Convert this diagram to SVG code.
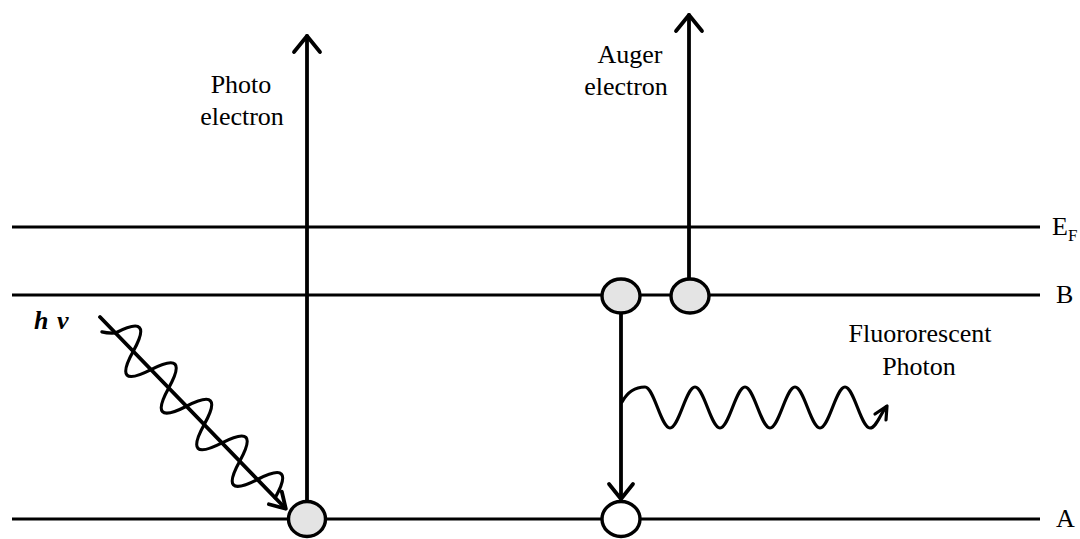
<svg xmlns="http://www.w3.org/2000/svg" width="1080" height="539" viewBox="0 0 1080 539">
<style>
.lvl{stroke:#000;stroke-width:3;fill:none}
.arr{stroke:#000;stroke-width:3.8;fill:none;stroke-linecap:round;stroke-linejoin:round}
.wave{stroke:#000;stroke-width:3.2;fill:none;stroke-linecap:round;stroke-linejoin:round}
.dot{stroke:#000;stroke-width:3.4}
.sh{fill:#e4e4e4}
.wh{fill:#fff}
.t{font-family:"Liberation Serif","Times New Roman",serif;font-size:26px;fill:#000}
</style>
<rect width="1080" height="539" fill="#fff"/>
<g id="levels">
<line class="lvl" x1="12" y1="227" x2="1040" y2="227"/>
<line class="lvl" x1="12" y1="295" x2="1040" y2="295"/>
<line class="lvl" x1="12" y1="519" x2="1040" y2="519"/>
</g>
<g id="connectors">
<line class="arr" x1="307" y1="502" x2="307" y2="36"/>
<polyline class="arr" points="294,52 307,36 320,52"/>
<line class="arr" x1="689" y1="280" x2="689" y2="15"/>
<polyline class="arr" points="676,31 689,15 702,31"/>
<line class="arr" x1="621" y1="312" x2="621" y2="498"/>
<polyline class="arr" points="609,484 621,499 633,484"/>
<g transform="translate(100,317) rotate(45.9)">
<line class="arr" x1="0" y1="0" x2="266" y2="0"/>
<polyline class="arr" points="252,-9 267,0 252,9"/>
<path class="wave" d="M 12 9 Q 17 6 22.25 0 Q 35 -42 47.75 0 T 73.25 0 T 98.75 0 T 124.25 0 T 149.75 0 T 175.25 0 T 200.75 0 T 226.25 0 T 251.75 0"/>
</g>
<path class="wave" d="M 622 402 C 628 391 636 387 645 387 C 654 387 661 428 670 428 S 686 387 695 387 S 711 428 720 428 S 736 387 745 387 S 761 428 770 428 S 786 387 795 387 S 811 428 820 428 S 836 387 845 387 S 861 428 870 428 C 876 428 880 415 886 407"/>
<polyline class="wave" points="875,414 887,406 886,420"/>
</g>
<g id="node-photo-A"><ellipse class="dot sh" cx="307" cy="519" rx="18.5" ry="17.5"/></g>
<g id="node-B1"><ellipse class="dot sh" cx="621" cy="296" rx="19" ry="17"/></g>
<g id="node-B2"><ellipse class="dot sh" cx="690" cy="296" rx="19" ry="17"/></g>
<g id="node-A2"><ellipse class="dot wh" cx="621" cy="519" rx="19" ry="17.5"/></g>
<g id="labels">
<text class="t" x="241" y="93" text-anchor="middle">Photo</text>
<text class="t" x="242" y="125" text-anchor="middle">electron</text>
<text class="t" x="630" y="63" text-anchor="middle">Auger</text>
<text class="t" x="626" y="95" text-anchor="middle">electron</text>
<text class="t" x="920" y="342" text-anchor="middle">Fluororescent</text>
<text class="t" x="919" y="375" text-anchor="middle">Photon</text>
<text class="t" x="34" y="329" font-size="29" font-style="italic" font-weight="bold">h<tspan x="57">ν</tspan></text>
<text class="t" x="1052" y="235">E<tspan font-size="17" dy="6">F</tspan></text>
<text class="t" x="1056" y="303">B</text>
<text class="t" x="1056" y="527">A</text>
</g>
</svg>
